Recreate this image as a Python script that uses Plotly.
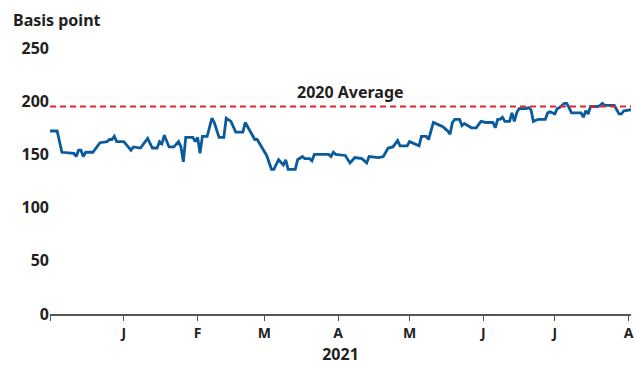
import plotly.graph_objects as go

dates = [
    "2020-12-01", "2020-12-04", "2020-12-06", "2020-12-11", "2020-12-12", "2020-12-13",
    "2020-12-14", "2020-12-15", "2020-12-16", "2020-12-19", "2020-12-22", "2020-12-25",
    "2020-12-26", "2020-12-27", "2020-12-28", "2020-12-29", "2021-01-01", "2021-01-04",
    "2021-01-05", "2021-01-08", "2021-01-11", "2021-01-13", "2021-01-15", "2021-01-16",
    "2021-01-17", "2021-01-18", "2021-01-20", "2021-01-22", "2021-01-24", "2021-01-25",
    "2021-01-26", "2021-01-27", "2021-01-30", "2021-01-31", "2021-02-01", "2021-02-02",
    "2021-02-03", "2021-02-05", "2021-02-07", "2021-02-08", "2021-02-10", "2021-02-12",
    "2021-02-13", "2021-02-15", "2021-02-17", "2021-02-20", "2021-02-21", "2021-02-22",
    "2021-02-25", "2021-02-26", "2021-02-28", "2021-03-01", "2021-03-02", "2021-03-04",
    "2021-03-05", "2021-03-07", "2021-03-08", "2021-03-09", "2021-03-10", "2021-03-11",
    "2021-03-14", "2021-03-15", "2021-03-17", "2021-03-18", "2021-03-20", "2021-03-21",
    "2021-03-22", "2021-03-28", "2021-03-29", "2021-03-30", "2021-03-31", "2021-04-04",
    "2021-04-06", "2021-04-08", "2021-04-11", "2021-04-13", "2021-04-14", "2021-04-18",
    "2021-04-20", "2021-04-22", "2021-04-24", "2021-04-26", "2021-04-27", "2021-04-30",
    "2021-05-01", "2021-05-03", "2021-05-05", "2021-05-06", "2021-05-08", "2021-05-09",
    "2021-05-10", "2021-05-11", "2021-05-13", "2021-05-15", "2021-05-16", "2021-05-17",
    "2021-05-18", "2021-05-19", "2021-05-20", "2021-05-22", "2021-05-23", "2021-05-24",
    "2021-05-27", "2021-05-29", "2021-05-31", "2021-06-02", "2021-06-05", "2021-06-06",
    "2021-06-07", "2021-06-08", "2021-06-09", "2021-06-10", "2021-06-12", "2021-06-13",
    "2021-06-14", "2021-06-15", "2021-06-16", "2021-06-19", "2021-06-20", "2021-06-21",
    "2021-06-22", "2021-06-24", "2021-06-27", "2021-06-28", "2021-06-29", "2021-07-01",
    "2021-07-02", "2021-07-03", "2021-07-05", "2021-07-06", "2021-07-07", "2021-07-08",
    "2021-07-12", "2021-07-13", "2021-07-14", "2021-07-15", "2021-07-16", "2021-07-19",
    "2021-07-20", "2021-07-21", "2021-07-22", "2021-07-26", "2021-07-28", "2021-07-29",
    "2021-07-30", "2021-08-02",
]

spread = [
    172, 172, 152, 151, 148, 154,
    154, 148, 152, 152, 161, 162,
    164, 164, 167, 162, 162, 154,
    157, 156, 165, 156, 156, 162,
    160, 168, 157, 157, 162, 157,
    143, 166, 166, 162, 166, 151,
    167, 167, 184, 180, 166, 166,
    184, 181, 171, 171, 180, 176,
    164, 164, 156, 152, 149, 136,
    136, 145, 142, 140, 145, 136,
    136, 145, 148, 146, 146, 144,
    150, 150, 148, 152, 150, 149,
    142, 147, 146, 142, 148, 147,
    148, 156, 157, 163, 158, 158,
    162, 160, 158, 167, 167, 164,
    172, 180, 178, 176, 174, 172,
    169, 180, 183, 183, 177, 179,
    175, 175, 181, 180, 180, 175,
    183, 183, 185, 181, 181, 189,
    181, 189, 193, 193, 194, 192,
    181, 183, 183, 189, 190, 188,
    193, 194, 198, 198, 194, 189,
    189, 185, 191, 188, 195, 195,
    196, 198, 196, 196, 188, 188,
    191, 192,
]

average_2020 = 195
average_label = "2020 Average"

tick_dates = ["2020-12-01", "2021-01-01", "2021-02-01", "2021-03-01", "2021-04-01",
              "2021-05-01", "2021-06-01", "2021-07-01", "2021-08-01"]
tick_labels = ["", "J", "F", "M", "A", "M", "J", "J", "A"]
y_ticks = [0, 50, 100, 150, 200, 250]

FONT = "Noto Sans"
TXT = "#231f20"

fig = go.Figure()
fig.add_trace(go.Scatter(
    x=dates, y=spread, mode="lines",
    line=dict(color="#0a5a9e", width=2.8),
    hoverinfo="skip", showlegend=False,
))

fig.add_shape(type="line", xref="paper", yref="y", x0=0, x1=1,
              y0=average_2020, y1=average_2020,
              line=dict(color="#e3242b", width=2.2, dash="6px,4px"))

fig.add_annotation(x="2021-04-06", y=average_2020, xref="x", yref="y",
                   text=average_label, showarrow=False, yanchor="bottom", yshift=2,
                   font=dict(family=FONT, size=16, color=TXT, weight=700))

fig.add_annotation(x=0, y=1, xref="paper", yref="paper", xanchor="left", yanchor="bottom",
                   xshift=-39, yshift=15, text="Basis point", showarrow=False,
                   font=dict(family=FONT, size=16, color=TXT, weight=700))

fig.update_layout(
    width=637, height=365,
    margin=dict(l=50, r=3, t=48, b=49),
    plot_bgcolor="white", paper_bgcolor="white",
    font=dict(family=FONT, color=TXT),
    xaxis=dict(
        type="date", range=["2020-12-01", "2021-08-02"],
        tickmode="array", tickvals=tick_dates, ticktext=tick_labels,
        ticks="outside", ticklen=5, tickcolor="#555", tickwidth=1,
        showline=True, linecolor="#555", linewidth=1.5,
        showgrid=False, zeroline=False,
        tickfont=dict(family=FONT, size=14, color=TXT, weight=700),
        title=dict(text="2021", standoff=9,
                   font=dict(family=FONT, size=16, color=TXT, weight=700)),
    ),
    yaxis=dict(
        range=[0, 250], tickvals=y_ticks, showgrid=False, zeroline=False,
        showline=False, ticks="",
        tickfont=dict(family=FONT, size=16, color=TXT, weight=700),
    ),
)

fig.write_html("out.html")
